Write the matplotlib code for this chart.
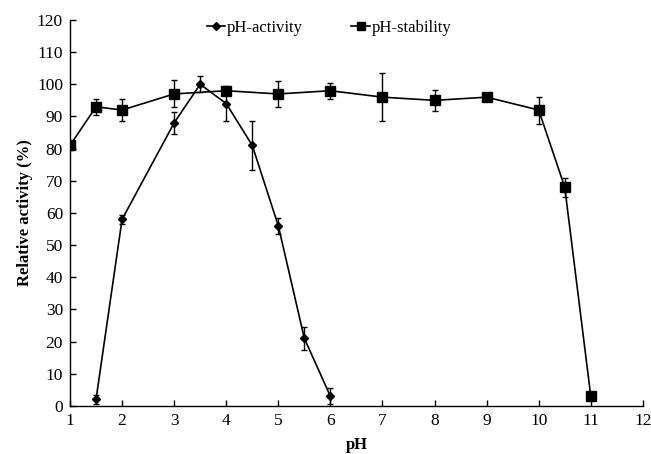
import matplotlib

matplotlib.use('Agg')
from matplotlib import pyplot as plt
from matplotlib.lines import Line2D

# pH-activity
act_ph = [1.5, 2, 3, 3.5, 4, 4.5, 5, 5.5, 6]
act_val = [2, 58, 88, 100, 94, 81, 56, 21, 3]
act_err = [1.5, 1.5, 3.5, 2.5, 5.5, 7.5, 2.5, 3.5, 2.5]

# pH-stability
stab_ph = [1, 1.5, 2, 3, 4, 5, 6, 7, 8, 9, 10, 10.5, 11]
stab_val = [81, 93, 92, 97, 98, 97, 98, 96, 95, 96, 92, 68, 3]
stab_err = [1.5, 2.5, 3.3, 4.2, 1, 4, 2.5, 7.5, 3.3, 1, 4.2, 3, 1]

x_ticks = list(range(1, 13))
y_ticks = list(range(0, 121, 10))

plt.rcParams['font.family'] = ['Liberation Serif', 'DejaVu Serif']

fig = plt.figure(figsize=(6.51, 4.54), dpi=100)
ax = fig.add_axes([0.1075, 0.106, 0.880, 0.850])

ax.errorbar(act_ph, act_val, yerr=act_err, color='black', marker='D', markersize=4.5,
            linewidth=1.2, elinewidth=1, capsize=2.5, capthick=1)
ax.errorbar(stab_ph, stab_val, yerr=stab_err, color='black', marker='s', markersize=6.5,
            linewidth=1.2, elinewidth=1, capsize=2.5, capthick=1)

ax.set_xlim(1, 12)
ax.set_ylim(0, 120)
ax.set_xticks(x_ticks)
ax.set_yticks(y_ticks)
ax.tick_params(direction='in', length=4, labelsize=12.5, width=1, pad=5)
ax.spines['top'].set_visible(False)
ax.spines['right'].set_visible(False)
ax.spines['left'].set_linewidth(1)
ax.spines['bottom'].set_linewidth(1)

ax.set_xlabel('pH', fontsize=12, fontweight='bold', labelpad=6)
ax.set_ylabel('Relative activity (%)', fontsize=12, fontweight='bold', labelpad=3)

handles = [Line2D([], [], color='black', marker='D', markersize=4.5, linewidth=1.2),
           Line2D([], [], color='black', marker='s', markersize=6, linewidth=1.2)]
ax.legend(handles, ['pH-activity', 'pH-stability'], loc='upper left',
          bbox_to_anchor=(0.213, 1.04), ncol=2, frameon=False,
          fontsize=12, handlelength=1.1, handletextpad=0.1, columnspacing=2.9)

plt.savefig('out.png', dpi=100)
plt.close('all')
